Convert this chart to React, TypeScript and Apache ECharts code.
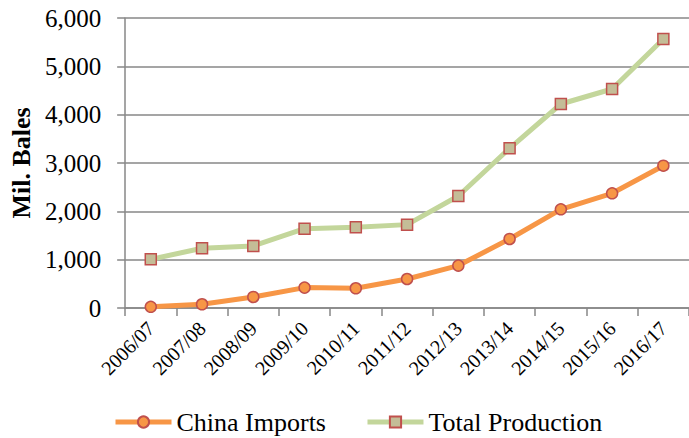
import React, { useEffect, useRef } from "react";
import * as echarts from "echarts";

const categories = [
  "2006/07", "2007/08", "2008/09", "2009/10", "2010/11", "2011/12",
  "2012/13", "2013/14", "2014/15", "2015/16", "2016/17",
];
const chinaImports = [25, 77, 228, 422, 408, 600, 878, 1428, 2042, 2373, 2944];
const totalProduction = [1007, 1235, 1285, 1642, 1670, 1725, 2318, 3304, 4221, 4531, 5566];
const yTicks = { min: 0, max: 6000, interval: 1000 };

const FONT = "Liberation Serif";

export default function App() {
  const ref = useRef<HTMLDivElement>(null);
  useEffect(() => {
    if (!ref.current) return;
    const chart = echarts.init(ref.current, undefined, { renderer: "svg" });
    chart.setOption({
      animation: false,
      grid: { left: 125, top: 18, height: 290, width: 566 },
      legend: {
        left: 108,
        top: 404,
        itemWidth: 56,
        itemHeight: 14,
        itemGap: 39,
        lineStyle: { width: 5 },
        textStyle: { fontFamily: FONT, fontSize: 26, color: "#000" },
        data: ["China Imports", "Total Production"],
      },
      xAxis: {
        type: "category",
        data: categories,
        boundaryGap: true,
        axisLine: { lineStyle: { color: "#878787", width: 1.5 } },
        axisTick: { show: true, length: 8, alignWithLabel: false, lineStyle: { color: "#878787", width: 1.5 } },
        axisLabel: {
          rotate: 45,
          fontSize: 20,
          fontFamily: FONT,
          color: "#000",
          margin: 17,
          interval: 0,
        },
        splitLine: { show: false },
      },
      yAxis: {
        type: "value",
        min: yTicks.min,
        max: yTicks.max,
        interval: yTicks.interval,
        name: "Mil. Bales",
        nameLocation: "middle",
        nameRotate: 90,
        nameGap: 90,
        nameTextStyle: { fontFamily: FONT, fontSize: 26, fontWeight: "bold", color: "#000" },
        axisLine: { show: true, lineStyle: { color: "#878787", width: 1.5 } },
        axisTick: { show: true, length: 8, lineStyle: { color: "#878787", width: 1.5 } },
        axisLabel: {
          fontSize: 25,
          fontFamily: FONT,
          color: "#000",
          margin: 24,
          formatter: (v: number) => v.toLocaleString("en-US"),
        },
        splitLine: { show: true, lineStyle: { color: "#878787", width: 1.5 } },
      },
      series: [
        {
          name: "China Imports",
          type: "line",
          data: chinaImports,
          symbol: "circle",
          symbolSize: 11,
          lineStyle: { color: "#F79646", width: 5 },
          itemStyle: { color: "#F79646", borderColor: "#C0504D", borderWidth: 1.5 },
          z: 3,
        },
        {
          name: "Total Production",
          type: "line",
          data: totalProduction,
          symbol: "rect",
          symbolSize: 11,
          lineStyle: { color: "#C3D69B", width: 5 },
          itemStyle: { color: "#C4BD97", borderColor: "#C0504D", borderWidth: 1.5 },
          z: 2,
        },
      ],
    });
    return () => chart.dispose();
  }, []);
  return (
    <div
      ref={ref}
      style={{ position: "fixed", left: 0, top: 0, width: 689, height: 438, background: "#fff" }}
    />
  );
}
